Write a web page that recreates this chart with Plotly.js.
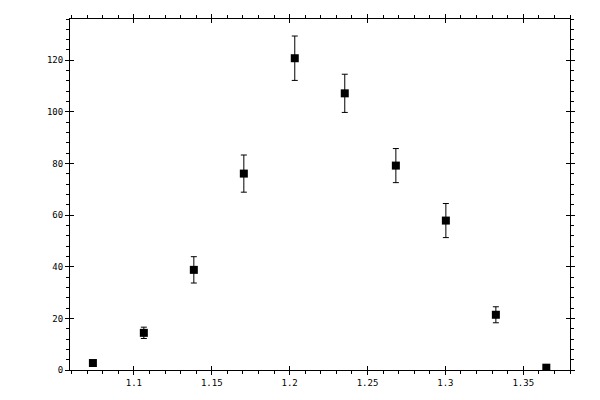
<!DOCTYPE html>
<html>
<head>
<meta charset="utf-8">
<script src="https://cdn.plot.ly/plotly-3.0.1.min.js"></script>
<style>html,body{margin:0;padding:0;background:#fff;}#chart{width:600px;height:400px;}</style>
</head>
<body>
<div id="chart"></div>
<script>
const xValues = [1.0737, 1.1064, 1.1385, 1.1706, 1.2033, 1.2354, 1.2682, 1.3003, 1.3324, 1.3648];
const yValues = [2.7, 14.4, 38.8, 76.1, 120.8, 107.2, 79.2, 57.9, 21.4, 0.9];
const yErrors = [0.6, 2.2, 5.1, 7.2, 8.6, 7.4, 6.6, 6.6, 3.1, 0.3];

const tickFont = {family: 'DejaVu Sans Mono, monospace', size: 9, color: '#000'};
const xRange = [1.059, 1.380];
const yRange = [0, 136];

const data = [
  {
    x: xValues, y: yValues, type: 'scatter', mode: 'markers',
    marker: {symbol: 'square', size: 8, color: '#000'},
    error_y: {type: 'data', array: yErrors, visible: true, color: '#000', thickness: 1, width: 3},
    hoverinfo: 'x+y'
  },
  {x: [], y: [], xaxis: 'x2', yaxis: 'y2', type: 'scatter', mode: 'markers', hoverinfo: 'skip', showlegend: false}
];

const layout = {
  width: 600, height: 400,
  margin: {l: 70, r: 30, t: 19, b: 30},
  paper_bgcolor: '#fff', plot_bgcolor: '#fff',
  showlegend: false,
  xaxis: {
    range: xRange, dtick: 0.05, tick0: 1.0,
    showgrid: false, zeroline: false,
    showline: true, linecolor: '#000', linewidth: 1, mirror: 'ticks',
    ticks: 'outside', ticklen: 4, tickwidth: 1, tickcolor: '#000',
    minor: {dtick: 0.01, ticks: 'outside', ticklen: 3, tickwidth: 1, tickcolor: '#000', showgrid: false},
    tickfont: tickFont
  },
  yaxis: {
    range: yRange, dtick: 20, tick0: 0,
    showgrid: false, zeroline: false,
    showline: true, linecolor: '#000', linewidth: 1, mirror: 'ticks',
    ticks: 'outside', ticklen: 4, tickwidth: 1, tickcolor: '#000',
    minor: {dtick: 4, ticks: 'outside', ticklen: 3, tickwidth: 1, tickcolor: '#000', showgrid: false},
    tickfont: tickFont
  },
  xaxis2: {
    overlaying: 'x', anchor: 'y', range: xRange, dtick: 0.05, tick0: 1.0,
    showgrid: false, zeroline: false, showline: false, mirror: 'ticks',
    ticks: 'inside', ticklen: 4, tickwidth: 1, tickcolor: '#000', showticklabels: false
  },
  yaxis2: {
    overlaying: 'y', anchor: 'x', range: yRange, dtick: 20, tick0: 0,
    showgrid: false, zeroline: false, showline: false, mirror: 'ticks',
    ticks: 'inside', ticklen: 4, tickwidth: 1, tickcolor: '#000', showticklabels: false
  }
};

Plotly.newPlot('chart', data, layout, {displayModeBar: false, staticPlot: true});
</script>
</body>
</html>
